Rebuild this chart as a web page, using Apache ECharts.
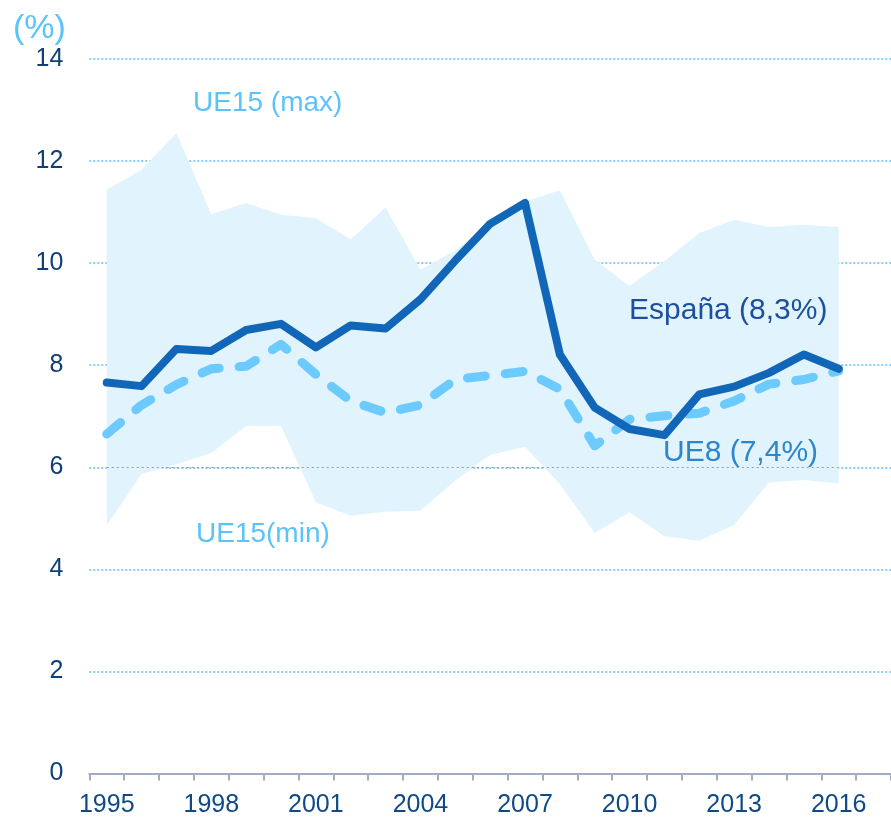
<!DOCTYPE html>
<html>
<head>
<meta charset="utf-8">
<script src="https://cdn.jsdelivr.net/npm/echarts@6/dist/echarts.min.js"></script>
<style>
html,body{margin:0;padding:0;background:#fff;}
#chart{width:891px;height:819px;}
</style>
</head>
<body>
<div id="chart"></div>
<script>
const years = ['1995','1996','1997','1998','1999','2000','2001','2002','2003','2004','2005','2006','2007','2008','2009','2010','2011','2012','2013','2014','2015','2016','2017'];
const espana = [7.66,7.59,8.32,8.28,8.69,8.81,8.35,8.78,8.72,9.29,10.05,10.77,11.18,8.21,7.17,6.75,6.63,7.43,7.58,7.85,8.21,7.93];
const ue8 = [6.65,7.22,7.62,7.93,7.98,8.41,7.82,7.30,7.07,7.22,7.72,7.80,7.88,7.53,6.42,6.94,7.01,7.06,7.30,7.63,7.72,7.89];
const ue15Max = [11.44,11.83,12.55,10.96,11.18,10.95,10.88,10.47,11.09,9.87,10.25,10.80,11.21,11.43,10.07,9.55,10.04,10.59,10.85,10.71,10.75,10.71];
const ue15Min = [4.86,5.87,6.06,6.28,6.81,6.81,5.31,5.05,5.13,5.15,5.74,6.24,6.40,5.67,4.71,5.12,4.65,4.56,4.87,5.70,5.75,5.68];
const yMin = 0, yMax = 14, yStep = 2;

const band = ue15Max.map((v, i) => +(v - ue15Min[i]).toFixed(2));
const FONT = '"Liberation Sans", Arial, sans-serif';

const chart = echarts.init(document.getElementById('chart'), null, {renderer: 'canvas'});
chart.setOption({
  animation: false,
  backgroundColor: '#ffffff',
  grid: {left: 89.3, right: -10.2, top: 59, bottom: 45.5, containLabel: false},
  xAxis: {
    type: 'category',
    data: years,
    boundaryGap: true,
    axisLine: {show: true, lineStyle: {color: '#a4abc4', width: 2}},
    axisTick: {show: true, interval: 0, length: 7, lineStyle: {color: '#a4abc4', width: 2}},
    axisLabel: {interval: 2, color: '#0f4a86', fontSize: 25, fontFamily: FONT, margin: 19},
    splitLine: {show: false}
  },
  yAxis: {
    type: 'value',
    min: yMin, max: yMax, interval: yStep,
    axisLine: {show: false},
    axisTick: {show: false},
    axisLabel: {color: '#0f3f78', fontSize: 25, fontFamily: FONT, margin: 26},
    splitLine: {show: true, lineStyle: {color: '#86ccf4', width: 2, type: [2, 2]}}
  },
  series: [
    {
      name: 'min', type: 'line', stack: 'band', data: ue15Min,
      symbol: 'none', lineStyle: {opacity: 0}, silent: true, z: 1
    },
    {
      name: 'band', type: 'line', stack: 'band', data: band,
      symbol: 'none', lineStyle: {opacity: 0},
      areaStyle: {color: '#e1f4fd', opacity: 1}, silent: true, z: 1,
      markLine: {
        silent: true, symbol: 'none', label: {show: false},
        lineStyle: {color: '#9a9a9a', type: [2, 3], width: 1.2},
        data: [[{coord: ['1995', 6]}, {coord: ['2016', 6]}]]
      }
    },
    {
      name: 'UE8', type: 'line', data: ue8, symbol: 'none', z: 3,
      lineStyle: {color: '#6ccaff', width: 9, type: [18, 20], cap: 'round', join: 'round'}
    },
    {
      name: 'España', type: 'line', data: espana, symbol: 'none', z: 4,
      lineStyle: {color: '#1166b8', width: 8, cap: 'round', join: 'round'}
    }
  ],
  graphic: [
    {type: 'text', left: 13, top: 12, style: {text: '(%)', fill: '#5cc3fa', font: '34px ' + FONT}},
    {type: 'text', x: 193, y: 103, style: {text: 'UE15 (max)', fill: '#5cc3fa', font: '28px ' + FONT, verticalAlign: 'middle'}, z: 10},
    {type: 'text', x: 196, y: 534, style: {text: 'UE15(min)', fill: '#5cc3fa', font: '28px ' + FONT, verticalAlign: 'middle'}, z: 10},
    {type: 'text', x: 629, y: 311, style: {text: 'España (8,3%)', fill: '#1c4f9e', font: '30px ' + FONT, verticalAlign: 'middle'}, z: 10},
    {type: 'text', x: 663, y: 453, style: {text: 'UE8 (7,4%)', fill: '#2b86cc', font: '30px ' + FONT, verticalAlign: 'middle'}, z: 10}
  ]
});
</script>
</body>
</html>
